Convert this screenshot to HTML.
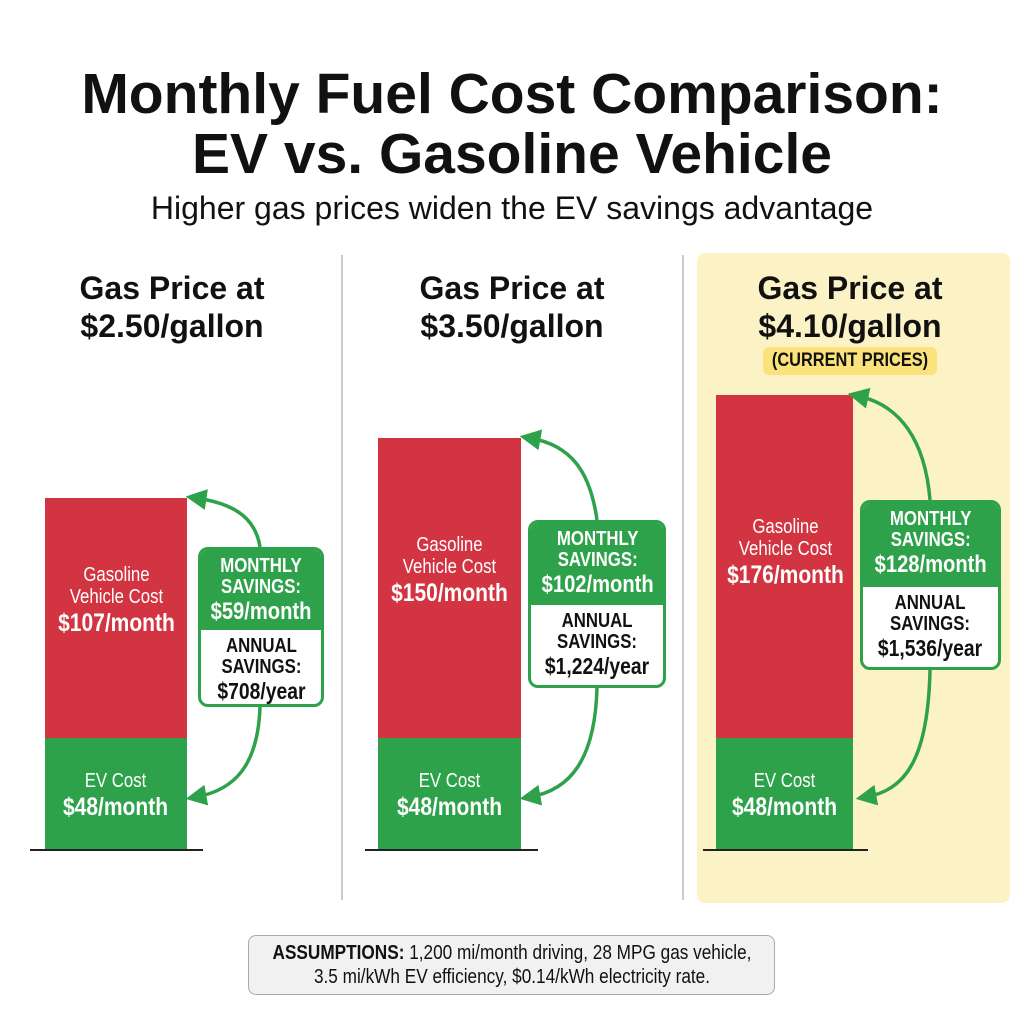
<!DOCTYPE html>
<html><head><meta charset="utf-8"><style>
*{margin:0;padding:0;box-sizing:border-box}
body{width:1024px;height:1024px;background:#fff;position:relative;overflow:hidden;font-family:"Liberation Sans",sans-serif;color:#111}
.a{position:absolute}
.c{text-align:center}
.sq{display:inline-block;transform:scaleX(.84);transform-origin:center;white-space:nowrap}
.ab{position:absolute;left:50%;transform:translateX(-50%) scaleX(.86);white-space:nowrap;text-align:center}
.title{left:0;width:1024px;font-weight:bold;font-size:57px;line-height:60px;top:64px}
.sub{left:0;width:1024px;font-size:32px;top:190px}
.head{font-weight:bold;font-size:32px;line-height:38px;width:300px}
.bar{position:absolute}
.red{background:#d23441}
.grn{background:#2ea24a}
.lbl{color:#fff;width:100%;text-align:center;position:absolute;font-size:20px;line-height:22px;font-weight:normal}
.val{font-weight:bold;font-size:25px;line-height:30px}
.box{position:absolute;border:3px solid #2ea24a;border-radius:10px;background:#fff;overflow:hidden;text-align:center}
.bt{background:#2ea24a;color:#fff;font-weight:bold;font-size:20px;line-height:21px;padding-top:6px}
.bt b{font-size:24px;line-height:28px;display:block}
.bb{font-weight:bold;font-size:20px;line-height:21px;padding-top:6px;color:#111}
.bb b{font-size:23px;line-height:26px;display:block}
.base{position:absolute;height:2px;background:#222}
</style></head><body>
<div class="a" style="left:697px;top:253px;width:313px;height:650px;background:#fbf3c6;border-radius:8px"></div>
<div class="a" style="left:341px;top:255px;width:2px;height:645px;background:#ccc"></div>
<div class="a" style="left:682px;top:255px;width:2px;height:645px;background:#ccc"></div>

<div class="a c title">Monthly Fuel Cost Comparison:<br>EV vs. Gasoline Vehicle</div>
<div class="a c sub">Higher gas prices widen the EV savings advantage</div>

<div class="a c head" style="left:22px;top:269px">Gas Price at<br>$2.50/gallon</div>
<div class="a c head" style="left:362px;top:269px">Gas Price at<br>$3.50/gallon</div>
<div class="a c head" style="left:700px;top:269px">Gas Price at<br>$4.10/gallon</div>
<div class="a" style="left:763px;top:347px;width:174px;height:28px;background:#fbe27a;border-radius:6px;font-weight:bold;font-size:19px;line-height:28px"><span class="ab">(CURRENT PRICES)</span></div>

<!-- panel 1 -->
<div class="bar red" style="left:45px;top:498px;width:142px;height:240px"><div class="lbl" style="top:66px"><span class="sq">Gasoline<br>Vehicle Cost<br><span class="val">$107/month</span></span></div></div>
<div class="bar grn" style="left:45px;top:738px;width:142px;height:112px"><div class="lbl" style="top:32px"><span class="sq">EV Cost<br><span class="val">$48/month</span></span></div></div>
<div class="base" style="left:30px;top:849px;width:173px"></div>
<div class="box" style="left:198px;top:547px;width:126px;height:160px"><div class="bt" style="height:80px"><span class="sq">MONTHLY<br>SAVINGS:<b>$59/month</b></span></div><div class="bb"><span class="sq">ANNUAL<br>SAVINGS:<b>$708/year</b></span></div></div>

<!-- panel 2 -->
<div class="bar red" style="left:378px;top:438px;width:143px;height:300px"><div class="lbl" style="top:96px"><span class="sq">Gasoline<br>Vehicle Cost<br><span class="val">$150/month</span></span></div></div>
<div class="bar grn" style="left:378px;top:738px;width:143px;height:112px"><div class="lbl" style="top:32px"><span class="sq">EV Cost<br><span class="val">$48/month</span></span></div></div>
<div class="base" style="left:365px;top:849px;width:173px"></div>
<div class="box" style="left:528px;top:520px;width:138px;height:168px"><div class="bt" style="height:82px"><span class="sq">MONTHLY<br>SAVINGS:<b>$102/month</b></span></div><div class="bb"><span class="sq">ANNUAL<br>SAVINGS:<b>$1,224/year</b></span></div></div>

<!-- panel 3 -->
<div class="bar red" style="left:716px;top:395px;width:137px;height:343px"><div class="lbl" style="top:121px"><span class="sq">Gasoline<br>Vehicle Cost<br><span class="val">$176/month</span></span></div></div>
<div class="bar grn" style="left:716px;top:738px;width:137px;height:112px"><div class="lbl" style="top:32px"><span class="sq">EV Cost<br><span class="val">$48/month</span></span></div></div>
<div class="base" style="left:703px;top:849px;width:165px"></div>
<div class="box" style="left:860px;top:500px;width:141px;height:170px"><div class="bt" style="height:84px"><span class="sq">MONTHLY<br>SAVINGS:<b>$128/month</b></span></div><div class="bb"><span class="sq">ANNUAL<br>SAVINGS:<b>$1,536/year</b></span></div></div>

<svg class="a" style="left:0;top:0" width="1024" height="1024">
<defs><marker id="m" markerWidth="6" markerHeight="6" refX="3" refY="3" orient="auto" markerUnits="strokeWidth"><path d="M0,0 L6,3 L0,6 Z" fill="#2ea24a"/></marker></defs>
<g fill="none" stroke="#2ea24a" stroke-width="3.5" marker-end="url(#m)">
<path d="M260,547 C255,515 230,503 196,498"/>
<path d="M260,707 C258,765 235,790 196,797"/>
<path d="M597,520 C590,470 570,445 530,438"/>
<path d="M597,688 C595,760 570,790 530,797"/>
<path d="M930,500 C925,440 900,405 858,396"/>
<path d="M930,670 C928,760 905,790 866,797"/>
</g></svg>

<div class="a" style="left:248px;top:935px;width:527px;height:60px;background:#f1f1f1;border:1.5px solid #aaa;border-radius:8px;font-size:20px;line-height:24px"><span class="ab" style="top:5px"><b>ASSUMPTIONS:</b> 1,200 mi/month driving, 28 MPG gas vehicle,<br>3.5 mi/kWh EV efficiency, $0.14/kWh electricity rate.</span></div>
</body></html>
